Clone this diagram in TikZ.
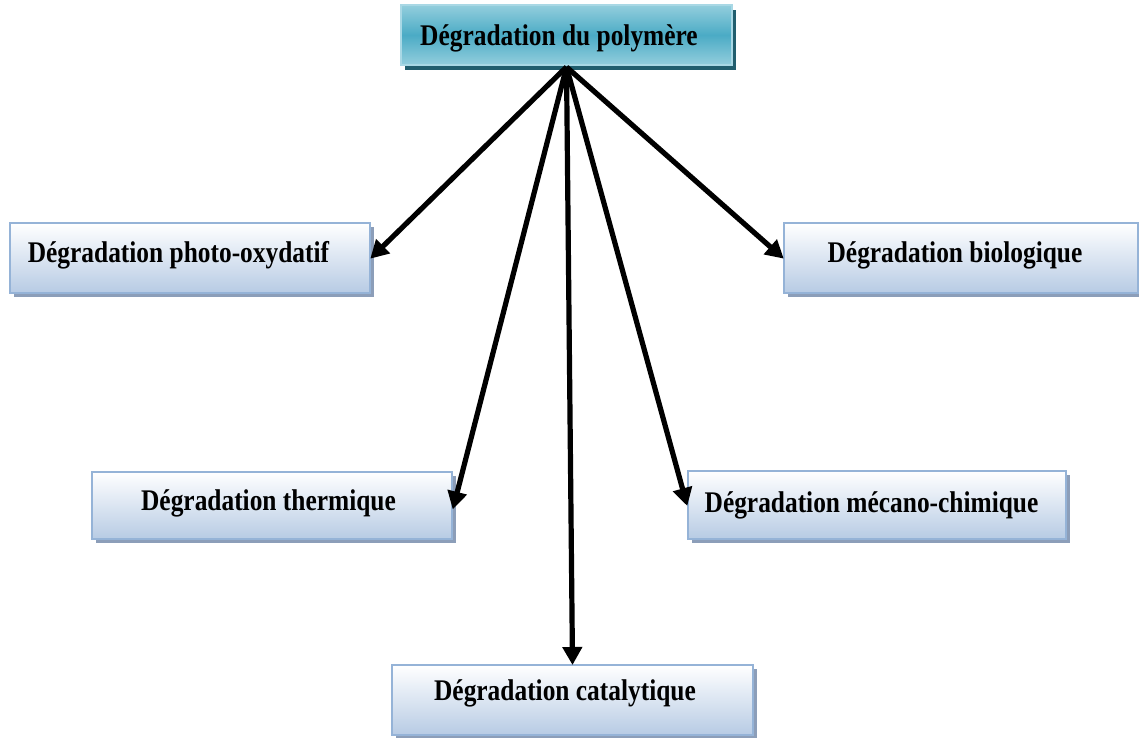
\documentclass[tikz,border=0pt]{standalone}
\usepackage{fontspec}
\setmainfont{Liberation Serif}
\usepackage{graphicx}
\usetikzlibrary{arrows.meta,shadows}

\definecolor{boxline}{HTML}{95B3D7}
\definecolor{boxlow}{HTML}{B7CBE4}
\definecolor{boxshadow}{HTML}{8C9EB9}
\definecolor{topline}{HTML}{A9D8E5}
\definecolor{toplight}{HTML}{93CEDD}
\definecolor{topdark}{HTML}{4BABC5}
\definecolor{topshadow}{HTML}{215E6E}

\tikzset{
  box/.style={draw=boxline, line width=2pt, top color=white, bottom color=boxlow,
    inner sep=0pt, minimum height=70pt,
    drop shadow={shadow xshift=3.5pt, shadow yshift=-4pt, fill=boxshadow, opacity=1}},
  headbox/.style={draw=topline, line width=2pt, top color=toplight, bottom color=toplight,
    middle color=topdark, inner sep=0pt, minimum width=331pt, minimum height=60pt,
    drop shadow={shadow xshift=4pt, shadow yshift=-5pt, fill=topshadow, opacity=1}},
  label/.style={anchor=base, inner sep=0pt, font=\bfseries\fontsize{25.4}{30}\selectfont},
  link/.style={line width=5.2pt, -{Triangle[length=18pt,width=19pt]}, shorten >=-1pt}
}
\newcommand{\tall}[1]{\scalebox{1}[1.18]{#1}}

\begin{document}
\begin{tikzpicture}[x=1pt, y=-1pt]
  \useasboundingbox (0,0) rectangle (1139,737);
  \clip (0,0) rectangle (1139,737);

  % boxes
  \node[headbox] (top) at (566.5,35) {};
  \node[box, minimum width=360pt] (photo) at (190,258) {};
  \node[box, minimum width=354pt] (bio) at (961,258) {};
  \node[box, minimum width=360pt, minimum height=67pt] (therm) at (272,505.5) {};
  \node[box, minimum width=378pt, minimum height=68pt] (meca) at (877,505) {};
  \node[box, minimum width=361pt] (cata) at (572.5,700) {};

  % labels
  \node[label] (top-t) at (559,45) {\tall{Dégradation du polymère}};
  \node[label] (photo-t) at (178.5,262) {\tall{Dégradation photo-oxydatif}};
  \node[label] (bio-t) at (955,262) {\tall{Dégradation biologique}};
  \node[label] (therm-t) at (268.5,510) {\tall{Dégradation thermique}};
  \node[label] (meca-t) at (871.5,512) {\tall{Dégradation mécano-chimique}};
  \node[label] (cata-t) at (565,700) {\tall{Dégradation catalytique}};

  % connectors
  \coordinate (src) at ([yshift=-1pt]top.south);
  \draw[link] (src) -- (photo.east);
  \draw[link] (src) -- (bio.west);
  \draw[link] (src) -- ([yshift=-3pt]therm.east);
  \draw[link] (src) -- (meca.west);
  \draw[link] (src) -- (cata.north);
\end{tikzpicture}
\end{document}
